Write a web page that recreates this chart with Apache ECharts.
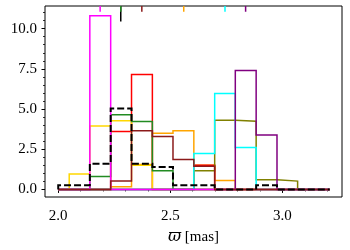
<!DOCTYPE html>
<html>
<head>
<meta charset="utf-8">
<script src="https://cdn.jsdelivr.net/npm/echarts@6/dist/echarts.min.js"></script>
<style>html,body{margin:0;padding:0;background:#fff}#c{width:350px;height:250px}</style>
</head>
<body>
<div id="c"></div>
<script>
// shared bin edges (parallax, mas)
const binEdges = [2.000, 2.049, 2.141, 2.234, 2.327, 2.420, 2.512, 2.605, 2.698, 2.790, 2.883, 2.976, 3.068, 3.161, 3.211];
// histogram heights per bin
const yellowVals  = [0, 0.96, 3.94, 4.28, 1.50, 0, 0, 0, 0, 0, 0, 0, 0, 0];
const orangeVals  = [0, 0, 0, 0.16, 1.55, 3.49, 3.65, 1.50, 0.56, 0, 0, 0, 0, 0];
const redVals     = [0, 0, 0, 3.60, 7.15, 0, 0, 1.50, 0, 0, 0, 0, 0, 0];
const greenVals   = [0, 0, 0.80, 4.64, 4.22, 1.16, 0, 0, 0, 0, 0, 0, 0, 0];
const oliveVals   = [0, 0, 0, 0, 0, 0, 0, 1.16, 4.30, 4.24, 0.60, 0.52, 0, 0];
const cyanVals    = [0, 0, 0, 0, 0, 0, 0, 2.23, 5.97, 2.61, 0, 0, 0, 0];
const purpleVals  = [0, 0, 0, 0, 0, 0, 0, 0, 0, 7.40, 3.39, 0, 0, 0];
const magentaVals = [0, 0, 10.80, 0, 0, 0, 0, 0, 0, 0, 0, 0, 0, 0];
const darkredVals = [0, 0, 0, 0.52, 3.65, 3.30, 1.87, 1.45, 0, 0, 0, 0, 0, 0];
const totalVals   = [0.26, 0.26, 1.60, 5.04, 1.60, 1.40, 0.26, 0.26, 0, 0, 0.26, 0, 0, 0];
// cluster mean markers at the top
const markerX = [2.187, 2.279, 2.373, 2.560, 2.744, 2.836];
const totalMarkerX = 2.279;
// axis ticks
const xMajor = [2.0, 2.5, 3.0];
const xMinor = [2.1, 2.2, 2.3, 2.4, 2.6, 2.7, 2.8, 2.9, 3.1, 3.2];
const yMajor = [0, 2.5, 5.0, 7.5, 10.0];
const yMinor = [0.5, 1, 1.5, 2, 3, 3.5, 4, 4.5, 5.5, 6, 6.5, 7, 8, 8.5, 9, 9.5, 10.5, 11];

const X_MIN = 1.941, X_MAX = 3.266, Y_MIN = -0.47, Y_MAX = 11.41;

function stepPoints(edges, vals) {
  const pts = [[edges[0], 0]];
  for (let i = 0; i < vals.length; i++) {
    pts.push([edges[i], vals[i]]);
    pts.push([edges[i + 1], vals[i]]);
  }
  pts.push([edges[vals.length], 0]);
  return pts;
}

const serif = 'Liberation Serif';
function hist(vals, color, width, type) {
  return {
    type: 'line', data: stepPoints(binEdges, vals), symbol: 'none', silent: true,
    lineStyle: { color: color, width: width || 1.5, type: type || 'solid', cap: 'butt', join: 'miter' }
  };
}
function tick(x, color, y0, y1, w) {
  return {
    type: 'line', data: [[x, y0], [x, y1]], symbol: 'none', silent: true,
    lineStyle: { color: color, width: w || 1.5 }
  };
}
const markerColors = ['#ff00ff', '#228b22', '#8b1a1a', '#ffa500', '#00ffff', '#800080'];

const series = [
  hist(orangeVals, '#ffa500'),
  hist(redVals, '#ff0000'),
  hist(yellowVals, '#ffd700'),
  hist(greenVals, '#228b22'),
  hist(oliveVals, '#808000'),
  hist(cyanVals, '#00ffff'),
  hist(purpleVals, '#800080'),
  hist(magentaVals, '#ff00ff'),
  hist(darkredVals, '#8b1a1a'),
  hist(totalVals, '#000000', 2, [7, 3]),
  tick(totalMarkerX, '#000000', Y_MAX, 10.45, 1.5)
];
markerX.forEach((x, i) => series.push(tick(x, markerColors[i], Y_MAX, 11.05, 1.5)));

const lbl = { fontFamily: serif, fontSize: 15, color: '#000', formatter: v => Number(v).toFixed(1) };
const chart = echarts.init(document.getElementById('c'), null, { renderer: 'canvas' });
chart.setOption({
  animation: false,
  grid: { left: 45, right: 8, top: 6, bottom: 46, show: true, borderColor: '#000', borderWidth: 1, containLabel: false },
  xAxis: [
    { type: 'value', min: X_MIN, max: X_MAX, position: 'bottom',
      axisLine: { show: false }, splitLine: { show: false },
      axisTick: { show: true, inside: false, length: 3.5, customValues: xMajor, lineStyle: { color: '#000', width: 1 } },
      axisLabel: Object.assign({ margin: 12, customValues: xMajor }, lbl),
      name: '{i|ϖ} [mas]', nameLocation: 'middle', nameGap: 32,
      nameTextStyle: { fontFamily: serif, fontSize: 15, color: '#000',
        rich: { i: { fontFamily: 'DejaVu Serif', fontStyle: 'italic', fontSize: 16, color: '#000' } } } },
    { type: 'value', min: X_MIN, max: X_MAX, position: 'bottom',
      axisLine: { show: false }, splitLine: { show: false },
      axisTick: { show: true, inside: false, length: 2, customValues: xMinor, lineStyle: { color: '#000', width: 0.8 } },
      axisLabel: { show: false } }
  ],
  yAxis: [
    { type: 'value', min: Y_MIN, max: Y_MAX, position: 'left',
      axisLine: { show: false }, splitLine: { show: false },
      axisTick: { show: true, inside: false, length: 3.5, customValues: yMajor, lineStyle: { color: '#000', width: 1 } },
      axisLabel: Object.assign({ margin: 8, customValues: yMajor }, lbl) },
    { type: 'value', min: Y_MIN, max: Y_MAX, position: 'left',
      axisLine: { show: false }, splitLine: { show: false },
      axisTick: { show: true, inside: false, length: 2, customValues: yMinor, lineStyle: { color: '#000', width: 0.8 } },
      axisLabel: { show: false } }
  ],
  series: series
});
</script>
</body>
</html>
